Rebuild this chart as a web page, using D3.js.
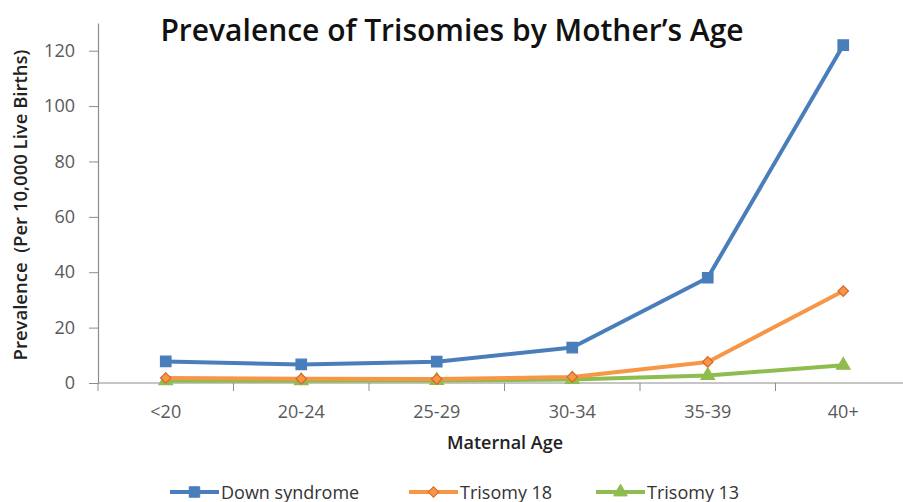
<!DOCTYPE html>
<html>
<head>
<meta charset="utf-8">
<script src="https://cdn.jsdelivr.net/npm/d3@7"></script>
<style>
  body { margin: 0; background: #fff; }
  text { font-family: "Open Sans", "Liberation Sans", sans-serif; }
</style>
</head>
<body>
<div id="chart"></div>
<script>
// data
const ageGroups = ['<20', '20-24', '25-29', '30-34', '35-39', '40+'];
const downSyndrome = [7.8, 6.7, 7.7, 12.8, 38, 122];
const trisomy18 = [1.8, 1.5, 1.4, 2.2, 7.6, 33.2];
const trisomy13 = [0.8, 0.8, 0.9, 1.3, 2.7, 6.4];
const yTicks = [0, 20, 40, 60, 80, 100, 120];

const series = [
    {name: 'Down syndrome', values: downSyndrome, color: '#4a7ebb', marker: 'square'},
    {name: 'Trisomy 18', values: trisomy18, color: '#f79646', marker: 'diamond'},
    {name: 'Trisomy 13', values: trisomy13, color: '#8fbc4f', marker: 'triangle'}
];

const width = 903, height = 502;
const margin = {top: 23, right: -8, bottom: 119, left: 98};

const svg = d3.select('#chart').append('svg')
    .attr('width', width)
    .attr('height', height);

const x = d3.scaleBand()
    .domain(ageGroups)
    .range([margin.left, width - margin.right]);

const y = d3.scaleLinear()
    .domain([0, 130])
    .range([height - margin.bottom, margin.top]);

const axisColor = '#8c8c8c';
const labelColor = '#595959';

// y axis
const yAxis = svg.append('g')
    .attr('transform', `translate(${margin.left},0)`)
    .call(d3.axisLeft(y).tickValues(yTicks).tickSize(9).tickSizeOuter(0).tickPadding(14));
yAxis.select('.domain').attr('stroke', axisColor).attr('stroke-width', 1.2);
yAxis.selectAll('.tick line').attr('stroke', axisColor);
yAxis.selectAll('.tick text')
    .attr('fill', labelColor)
    .style('font-size', '18px')
    .style('font-family', '"Open Sans", sans-serif');

// x axis, ticks sit between the categories
const xAxisG = svg.append('g')
    .attr('transform', `translate(0,${y(0)})`);
xAxisG.append('line')
    .attr('x1', margin.left).attr('x2', width)
    .attr('stroke', axisColor).attr('stroke-width', 1.2);
xAxisG.selectAll('.sep')
    .data(ageGroups)
    .join('line')
    .attr('class', 'sep')
    .attr('x1', d => x(d)).attr('x2', d => x(d))
    .attr('y1', 0).attr('y2', 8)
    .attr('stroke', axisColor);
xAxisG.selectAll('.lbl')
    .data(ageGroups)
    .join('text')
    .attr('class', 'lbl')
    .attr('x', d => x(d) + x.bandwidth() / 2)
    .attr('y', 35)
    .attr('text-anchor', 'middle')
    .attr('fill', labelColor)
    .style('font-size', '18px')
    .text(d => d);

// lines
const line = d3.line()
    .x((d, i) => x(ageGroups[i]) + x.bandwidth() / 2)
    .y(d => y(d));

const symbolFor = {
    square: d3.symbol().type(d3.symbolSquare).size(110),
    diamond: d3.symbol().type(d3.symbolSquare).size(55),
    triangle: d3.symbol().type(d3.symbolTriangle).size(80)
};
const markerRotate = {square: 0, diamond: 45, triangle: 0};

// draw in reverse so the blue line sits on top like the original
series.slice().reverse().forEach(s => {
    const g = svg.append('g');
    g.append('path')
        .datum(s.values)
        .attr('fill', 'none')
        .attr('stroke', s.color)
        .attr('stroke-width', 4)
        .attr('stroke-linejoin', 'round')
        .attr('d', line);
    g.selectAll('path.mk')
        .data(s.values)
        .join('path')
        .attr('class', 'mk')
        .attr('transform', (d, i) => `translate(${x(ageGroups[i]) + x.bandwidth() / 2},${y(d)}) rotate(${markerRotate[s.marker]})`)
        .attr('d', symbolFor[s.marker]())
        .attr('fill', s.color)
        .attr('stroke', s.marker === 'diamond' ? '#d9662a' : s.color)
        .attr('stroke-width', 1.2);
});

// title
svg.append('text')
    .attr('x', 452)
    .attr('y', 41)
    .attr('text-anchor', 'middle')
    .attr('fill', '#111')
    .style('font-size', '30px')
    .style('font-weight', '600')
    .text('Prevalence of Trisomies by Mother\u2019s Age');

// axis titles
svg.append('text')
    .attr('transform', `translate(27,205) rotate(-90)`)
    .attr('text-anchor', 'middle')
    .attr('fill', '#222')
    .attr('xml:space', 'preserve')
    .style('white-space', 'pre')
    .style('font-size', '18.5px')
    .style('font-weight', '600')
    .text('Prevalence  (Per 10,000 Live Births)');

svg.append('text')
    .attr('x', 505)
    .attr('y', 449)
    .attr('text-anchor', 'middle')
    .attr('fill', '#222')
    .style('font-size', '18px')
    .style('font-weight', '600')
    .text('Maternal Age');

// legend
const legendX = [170, 409, 596];
const legend = svg.append('g').attr('transform', 'translate(0,492)');
series.forEach((s, i) => {
    const lg = legend.append('g').attr('transform', `translate(${legendX[i]},0)`);
    lg.append('line')
        .attr('x1', 0).attr('x2', 49)
        .attr('stroke', s.color).attr('stroke-width', 4);
    lg.append('path')
        .attr('transform', `translate(24.5,0) rotate(${markerRotate[s.marker]})`)
        .attr('d', symbolFor[s.marker]())
        .attr('fill', s.color)
        .attr('stroke', s.marker === 'diamond' ? '#d9662a' : s.color);
    lg.append('text')
        .attr('x', 51)
        .attr('y', 6.5)
        .attr('fill', '#333')
        .style('font-size', '18px')
        .text(s.name);
});
</script>
</body>
</html>
